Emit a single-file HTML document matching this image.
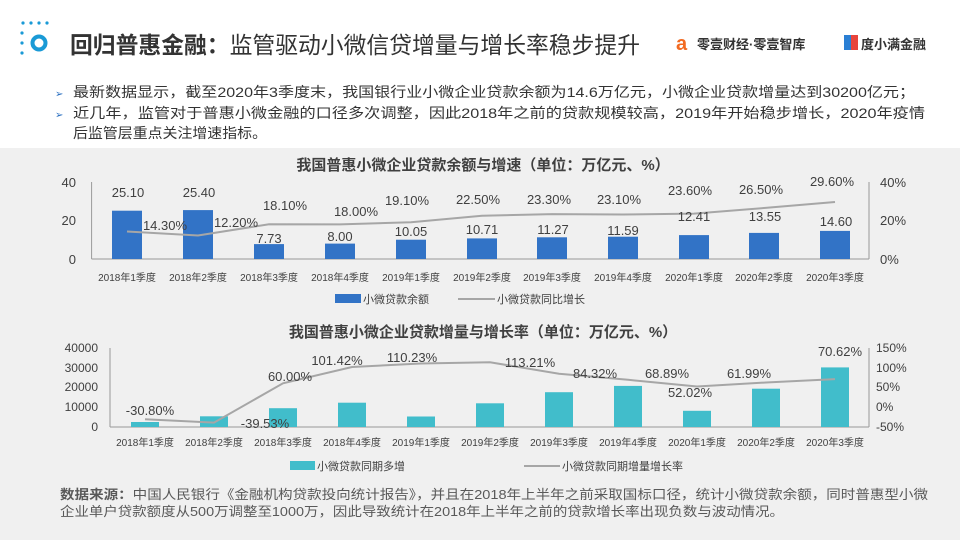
<!DOCTYPE html>
<html><head><meta charset="utf-8"><style>
body{margin:0;width:960px;height:540px;overflow:hidden;background:#fff;font-family:"Liberation Sans","Noto Sans CJK SC",sans-serif;}
</style></head><body>
<svg width="960" height="540" xmlns="http://www.w3.org/2000/svg" font-family="Liberation Sans, Noto Sans CJK SC, sans-serif">
<rect x="0" y="148" width="960" height="392" fill="#f0f0f0"/>
<!-- logo -->
<g fill="#1a9ad6">
<circle cx="23" cy="23" r="1.6"/><circle cx="31" cy="23" r="1.6"/><circle cx="39" cy="23" r="1.6"/><circle cx="47" cy="23" r="1.6"/>
<circle cx="22" cy="33" r="1.6"/><circle cx="22" cy="43" r="1.6"/><circle cx="22" cy="53" r="1.6"/>
</g>
<circle cx="39" cy="43" r="6.5" fill="none" stroke="#1a9ad6" stroke-width="4"/>
<text x="70" y="53" font-size="23" font-weight="bold" fill="#333" textLength="570" lengthAdjust="spacingAndGlyphs">回归普惠金融：<tspan font-weight="normal">监管驱动小微信贷增量与增长率稳步提升</tspan></text>
<text x="676" y="50" font-size="20" font-weight="bold" fill="#f26a21">a</text>
<text x="697" y="49" font-size="13" font-weight="bold" fill="#333">零壹财经·零壹智库</text>
<rect x="844" y="35" width="7" height="15" fill="#2a7fd4"/><rect x="851" y="35" width="7" height="15" fill="#e8453c"/>
<text x="861" y="49" font-size="13" font-weight="bold" fill="#333">度小满金融</text>
<g font-size="14" fill="#333">
<text x="55" y="97" font-size="10" fill="#2a6fc0">➢</text>
<text x="73" y="97" textLength="842" lengthAdjust="spacingAndGlyphs">最新数据显示，截至2020年3季度末，我国银行业小微企业贷款余额为14.6万亿元，小微企业贷款增量达到30200亿元；</text>
<text x="55" y="118" font-size="10" fill="#2a6fc0">➢</text>
<text x="73" y="118" textLength="852" lengthAdjust="spacingAndGlyphs">近几年，监管对于普惠小微金融的口径多次调整，因此2018年之前的贷款规模较高，2019年开始稳步增长，2020年疫情</text>
<text x="73" y="138" textLength="194" lengthAdjust="spacingAndGlyphs">后监管层重点关注增速指标。</text>
</g>
<!-- chart 1 -->
<text x="483" y="170" font-size="15" font-weight="bold" fill="#404040" text-anchor="middle">我国普惠小微企业贷款余额与增速（单位：万亿元、%）</text>
<g stroke="#999" stroke-width="1">
<line x1="91.6" y1="182" x2="91.6" y2="259"/><line x1="869" y1="182" x2="869" y2="259"/>
<line x1="91.6" y1="259" x2="869" y2="259"/>
</g>
<g font-size="13" fill="#404040" text-anchor="end"><text x="76" y="187">40</text><text x="76" y="225">20</text><text x="76" y="264">0</text></g>
<g font-size="13" fill="#404040"><text x="880" y="187">40%</text><text x="880" y="225">20%</text><text x="880" y="264">0%</text></g>
<g fill="#3273c6">
<rect x="112" y="210.7" width="30" height="48.3"/><rect x="183" y="210.1" width="30" height="48.9"/>
<rect x="254" y="244.1" width="30" height="14.9"/><rect x="325" y="243.6" width="30" height="15.4"/>
<rect x="396" y="239.7" width="30" height="19.3"/><rect x="467" y="238.4" width="30" height="20.6"/>
<rect x="537" y="237.3" width="30" height="21.7"/><rect x="608" y="236.7" width="30" height="22.3"/>
<rect x="679" y="235.1" width="30" height="23.9"/><rect x="749" y="232.9" width="30" height="26.1"/>
<rect x="820" y="230.9" width="30" height="28.1"/>
</g>
<polyline fill="none" stroke="#a6a6a6" stroke-width="2" points="127,231.5 198,235.5 269,224.2 340,224.4 411,222.2 482,215.7 552,214.1 623,214.5 694,213.6 764,208 835,202"/>
<g font-size="13" fill="#404040" text-anchor="middle">
<text x="128" y="197">25.10</text><text x="199" y="197">25.40</text><text x="269" y="243">7.73</text><text x="340" y="241">8.00</text><text x="411" y="236">10.05</text><text x="482" y="234">10.71</text><text x="553" y="234">11.27</text><text x="623" y="235">11.59</text><text x="694" y="221">12.41</text><text x="765" y="221">13.55</text><text x="836" y="226">14.60</text>
<text x="165" y="230">14.30%</text><text x="236" y="227">12.20%</text><text x="285" y="210">18.10%</text><text x="356" y="216">18.00%</text><text x="407" y="205">19.10%</text><text x="478" y="204">22.50%</text><text x="549" y="204">23.30%</text><text x="619" y="204">23.10%</text><text x="690" y="195">23.60%</text><text x="761" y="194">26.50%</text><text x="832" y="186">29.60%</text>
</g>
<g font-size="10" fill="#404040" text-anchor="middle">
<text x="127" y="281">2018年1季度</text><text x="198" y="281">2018年2季度</text><text x="269" y="281">2018年3季度</text><text x="340" y="281">2018年4季度</text><text x="411" y="281">2019年1季度</text><text x="482" y="281">2019年2季度</text><text x="552" y="281">2019年3季度</text><text x="623" y="281">2019年4季度</text><text x="694" y="281">2020年1季度</text><text x="764" y="281">2020年2季度</text><text x="835" y="281">2020年3季度</text>
</g>
<rect x="335" y="294" width="26" height="9" fill="#3273c6"/>
<text x="363" y="303" font-size="11" fill="#404040">小微贷款余额</text>
<line x1="458" y1="299" x2="495" y2="299" stroke="#a6a6a6" stroke-width="2"/>
<text x="497" y="303" font-size="11" fill="#404040">小微贷款同比增长</text>
<!-- chart 2 -->
<text x="483" y="337" font-size="15" font-weight="bold" fill="#404040" text-anchor="middle">我国普惠小微企业贷款增量与增长率（单位：万亿元、%）</text>
<g stroke="#999" stroke-width="1">
<line x1="110" y1="348" x2="110" y2="427"/><line x1="869" y1="348" x2="869" y2="427"/>
<line x1="110" y1="427" x2="869" y2="427"/>
</g>
<g font-size="12" fill="#404040" text-anchor="end"><text x="98" y="352">40000</text><text x="98" y="372">30000</text><text x="98" y="391">20000</text><text x="98" y="411">10000</text><text x="98" y="431">0</text></g>
<g font-size="12" fill="#404040"><text x="876" y="352">150%</text><text x="876" y="372">100%</text><text x="876" y="391">50%</text><text x="876" y="411">0%</text><text x="876" y="431">-50%</text></g>
<g fill="#41bdcb">
<rect x="131" y="422" width="28" height="5"/><rect x="200" y="416.3" width="28" height="10.7"/>
<rect x="269" y="408.2" width="28" height="18.8"/><rect x="338" y="402.7" width="28" height="24.3"/>
<rect x="407" y="416.5" width="28" height="10.5"/><rect x="476" y="403.3" width="28" height="23.7"/>
<rect x="545" y="392.2" width="28" height="34.8"/><rect x="614" y="385.9" width="28" height="41.1"/>
<rect x="683" y="410.8" width="28" height="16.2"/><rect x="752" y="388.7" width="28" height="38.3"/>
<rect x="821" y="367.4" width="28" height="59.6"/>
</g>
<polyline fill="none" stroke="#a6a6a6" stroke-width="2" points="145,419.2 214,422.6 283,383.3 352,367 421,363.5 490,362.3 559,373.7 628,379.8 697,386.5 766,382.5 835,379.1"/>
<g font-size="13" fill="#404040" text-anchor="middle">
<text x="150" y="415">-30.80%</text><text x="265" y="428">-39.53%</text><text x="290" y="381">60.00%</text><text x="337" y="365">101.42%</text><text x="412" y="362">110.23%</text><text x="530" y="367">113.21%</text><text x="595" y="378">84.32%</text><text x="667" y="378">68.89%</text><text x="690" y="397">52.02%</text><text x="749" y="378">61.99%</text><text x="840" y="356">70.62%</text>
</g>
<g font-size="10" fill="#404040" text-anchor="middle">
<text x="145" y="446">2018年1季度</text><text x="214" y="446">2018年2季度</text><text x="283" y="446">2018年3季度</text><text x="352" y="446">2018年4季度</text><text x="421" y="446">2019年1季度</text><text x="490" y="446">2019年2季度</text><text x="559" y="446">2019年3季度</text><text x="628" y="446">2019年4季度</text><text x="697" y="446">2020年1季度</text><text x="766" y="446">2020年2季度</text><text x="835" y="446">2020年3季度</text>
</g>
<rect x="290" y="461" width="25" height="9" fill="#41bdcb"/>
<text x="317" y="470" font-size="11" fill="#404040">小微贷款同期多增</text>
<line x1="524" y1="466" x2="560" y2="466" stroke="#a6a6a6" stroke-width="2"/>
<text x="562" y="470" font-size="11" fill="#404040">小微贷款同期增量增长率</text>
<!-- source -->
<g font-size="13" fill="#595959">
<text x="60" y="499" textLength="868" lengthAdjust="spacingAndGlyphs"><tspan font-weight="bold">数据来源：</tspan>中国人民银行《金融机构贷款投向统计报告》，并且在2018年上半年之前采取国标口径，统计小微贷款余额，同时普惠型小微</text>
<text x="60" y="516" textLength="724" lengthAdjust="spacingAndGlyphs">企业单户贷款额度从500万调整至1000万，因此导致统计在2018年上半年之前的贷款增长率出现负数与波动情况。</text>
</g>
</svg>
</body></html>
